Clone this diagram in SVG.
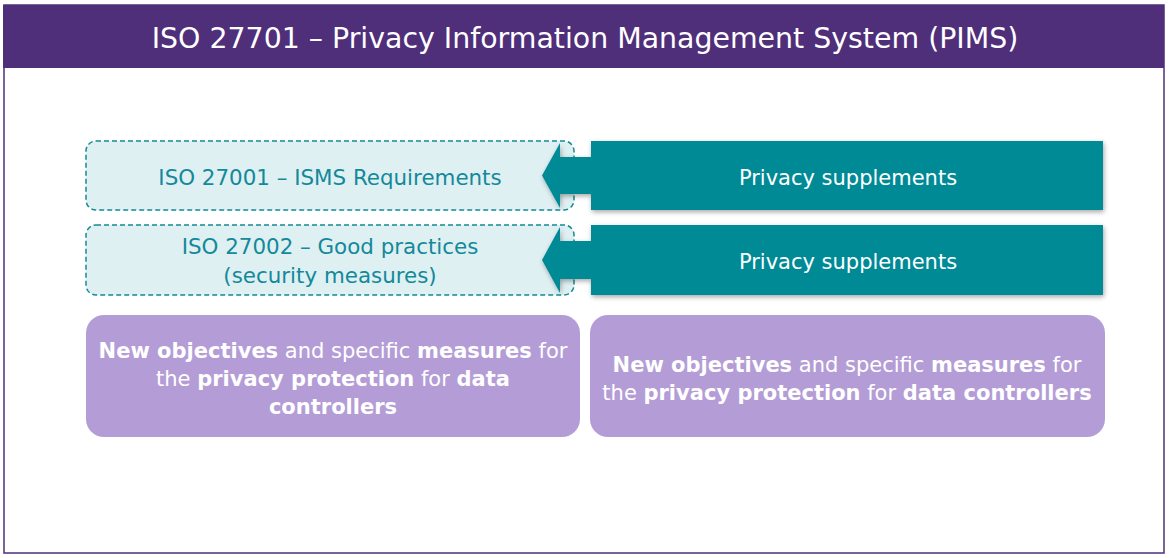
<svg xmlns="http://www.w3.org/2000/svg" width="1169" height="558" viewBox="0 0 1169 558">
<defs>
<style>
text{font-family:"DejaVu Sans","Verdana",sans-serif;text-anchor:middle}
.title{font-size:28.4px;fill:#ffffff}
.dash{fill:#DFF0F3;stroke:#138B95;stroke-width:1.5;stroke-dasharray:5 3}
.dt{font-size:21.4px;fill:#13899A}
.teal{fill:#038A96;filter:url(#sh)}
.tt{font-size:21px;fill:#ffffff}
.pb{fill:#B49DD6}
.pt{font-size:21px;fill:#ffffff}
.b{font-weight:bold}
</style>
<filter id="sh" x="-5%" y="-20%" width="110%" height="150%">
<feDropShadow dx="1" dy="2" stdDeviation="2.5" flood-color="#000" flood-opacity="0.35"/>
</filter>
</defs>
<rect x="0" y="0" width="1169" height="558" fill="#ffffff"/>
<g id="frame">
<rect x="4" y="5" width="1160" height="548" fill="#ffffff" stroke="#4F2E7A" stroke-width="1.5"/>
<rect x="3" y="5" width="1161" height="63" fill="#4F2E7A"/>
<text class="title" x="585" y="48">ISO 27701 – Privacy Information Management System (PIMS)</text>
</g>
<g id="iso27001">
<rect class="dash" x="86" y="141" width="488" height="69" rx="10"/>
<text class="dt" x="330" y="185">ISO 27001 – ISMS Requirements</text>
</g>
<g id="iso27002">
<rect class="dash" x="86" y="225" width="488" height="70" rx="10"/>
<text class="dt" x="330" y="254">ISO 27002 – Good practices</text>
<text class="dt" x="330" y="283">(security measures)</text>
</g>
<g id="connectors">
</g>
<g id="supp1">
<path class="teal" d="M1103,141 L591,141 L591,157 L560,157 L560,143 L542,175.5 L560,208 L560,194 L591,194 L591,210 L1103,210 Z"/>
<text class="tt" x="848" y="185">Privacy supplements</text>
</g>
<g id="supp2">
<path class="teal" d="M1103,225 L591,225 L591,241 L560,241 L560,227 L542,260 L560,293 L560,279 L591,279 L591,295 L1103,295 Z"/>
<text class="tt" x="848" y="269">Privacy supplements</text>
</g>
<g id="obj1">
<rect class="pb" x="86" y="315" width="494" height="122" rx="18"/>
<text class="pt" x="333" y="358"><tspan class="b">New objectives</tspan> and specific <tspan class="b">measures</tspan> for</text>
<text class="pt" x="333" y="386">the <tspan class="b">privacy protection</tspan> for <tspan class="b">data</tspan></text>
<text class="pt b" x="333" y="414">controllers</text>
</g>
<g id="obj2">
<rect class="pb" x="590" y="315" width="515" height="122" rx="18"/>
<text class="pt" x="847" y="372"><tspan class="b">New objectives</tspan> and specific <tspan class="b">measures</tspan> for</text>
<text class="pt" x="847" y="400">the <tspan class="b">privacy protection</tspan> for <tspan class="b">data controllers</tspan></text>
</g>
</svg>
